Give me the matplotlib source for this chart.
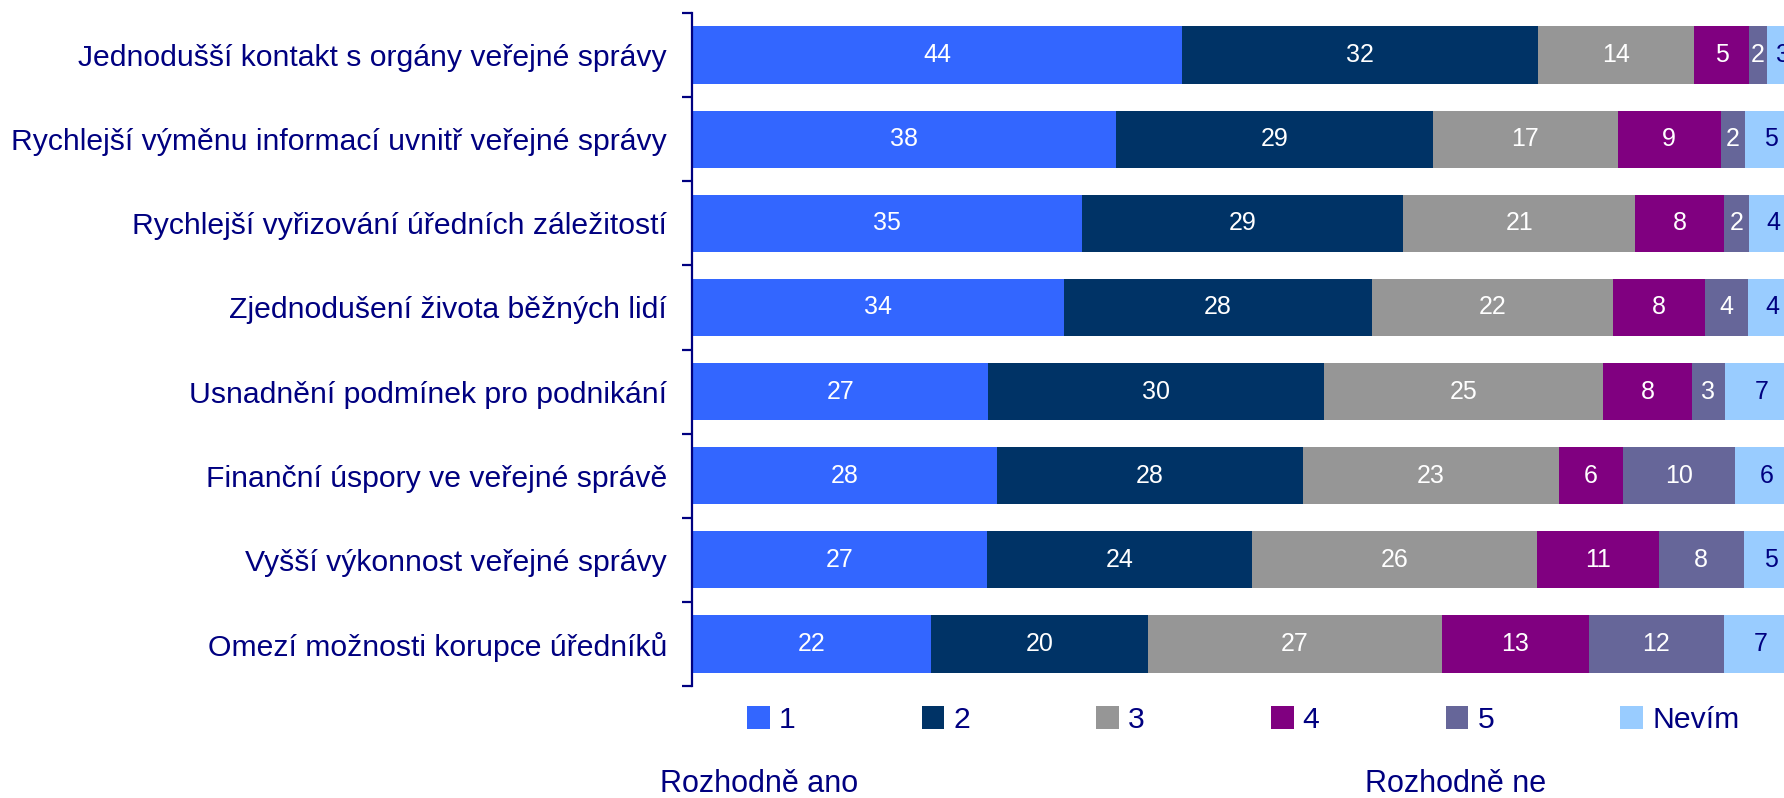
import matplotlib
matplotlib.use("Agg")
import matplotlib.pyplot as plt
from matplotlib.patches import Patch

plt.rcParams["font.family"] = ["Liberation Sans", "DejaVu Sans"]

categories = [
    "Jednodušší kontakt s orgány veřejné správy",
    "Rychlejší výměnu informací uvnitř veřejné správy",
    "Rychlejší vyřizování úředních záležitostí",
    "Zjednodušení života běžných lidí",
    "Usnadnění podmínek pro podnikání",
    "Finanční úspory ve veřejné správě",
    "Vyšší výkonnost veřejné správy",
    "Omezí možnosti korupce úředníků",
]
series_names = ["1", "2", "3", "4", "5", "Nevím"]
# percentages (100 % stacked)
s1 = [44.3, 38.3, 35.3, 33.6, 26.8, 27.6, 26.7, 21.6]
s2 = [32.2, 28.7, 29.0, 27.9, 30.3, 27.6, 23.9, 19.6]
s3 = [14.1, 16.7, 21.0, 21.8, 25.3, 23.2, 25.8, 26.6]
s4 = [5.0, 9.3, 8.0, 8.3, 8.0, 5.8, 11.0, 13.3]
s5 = [1.6, 2.2, 2.3, 3.9, 3.0, 10.1, 7.7, 12.2]
nevim = [2.8, 4.8, 4.4, 4.4, 6.6, 5.7, 4.9, 6.7]
series = [s1, s2, s3, s4, s5, nevim]

colors = ["#3366FF", "#003366", "#969696", "#800080", "#666699", "#99CCFF"]
label_colors = ["white", "white", "white", "white", "white", "#000080"]
navy = "#000080"

W, H = 1784, 798
fig = plt.figure(figsize=(W / 100, H / 100), dpi=100)
# the 100 % end of the axis lies a little beyond the right edge
ax = fig.add_axes([692 / W, 1 - 686 / H, 1106 / W, (686 - 13) / H])

y = list(range(len(categories)))
left = [0] * len(categories)
for vals, name, c, lc in zip(series, series_names, colors, label_colors):
    bars = ax.barh(y, vals, left=left, height=0.68, color=c, label=name)
    ax.bar_label(bars, labels=[f"{v:.0f}" for v in vals], label_type="center",
                 color=lc, fontsize=18)
    left = [a + b for a, b in zip(left, vals)]

ax.set_xlim(0, 100)
ax.set_ylim(len(categories) - 0.5, -0.5)
ax.set_yticks(y)
ax.set_yticklabels(categories, fontsize=21.7, color=navy)
ax.tick_params(axis="y", which="major", length=0, pad=18)
ax.set_yticks([i - 0.5 for i in range(len(categories) + 1)], minor=True)
ax.tick_params(axis="y", which="minor", length=7.5, width=1.6, color=navy)
ax.set_xticks([])
for s in ["top", "right", "bottom"]:
    ax.spines[s].set_visible(False)
ax.spines["left"].set_color(navy)
ax.spines["left"].set_linewidth(1.6)

handles = [Patch(facecolor=c, edgecolor="none") for c in colors]
fig.legend(handles, series_names, loc="center left", ncol=6,
           bbox_to_anchor=(747 / W, 1 - 720 / H), borderaxespad=0, borderpad=0,
           frameon=False, fontsize=21.7, labelcolor=navy,
           handlelength=0.75, handleheight=0.75, handletextpad=0.3,
           columnspacing=4.19)

fig.text(660 / W, 1 - 792 / H, "Rozhodně ano", fontsize=22, color=navy,
         va="baseline", ha="left")
fig.text(1365 / W, 1 - 792 / H, "Rozhodně ne", fontsize=22, color=navy,
         va="baseline", ha="left")

fig.savefig("out.png", dpi=100)
